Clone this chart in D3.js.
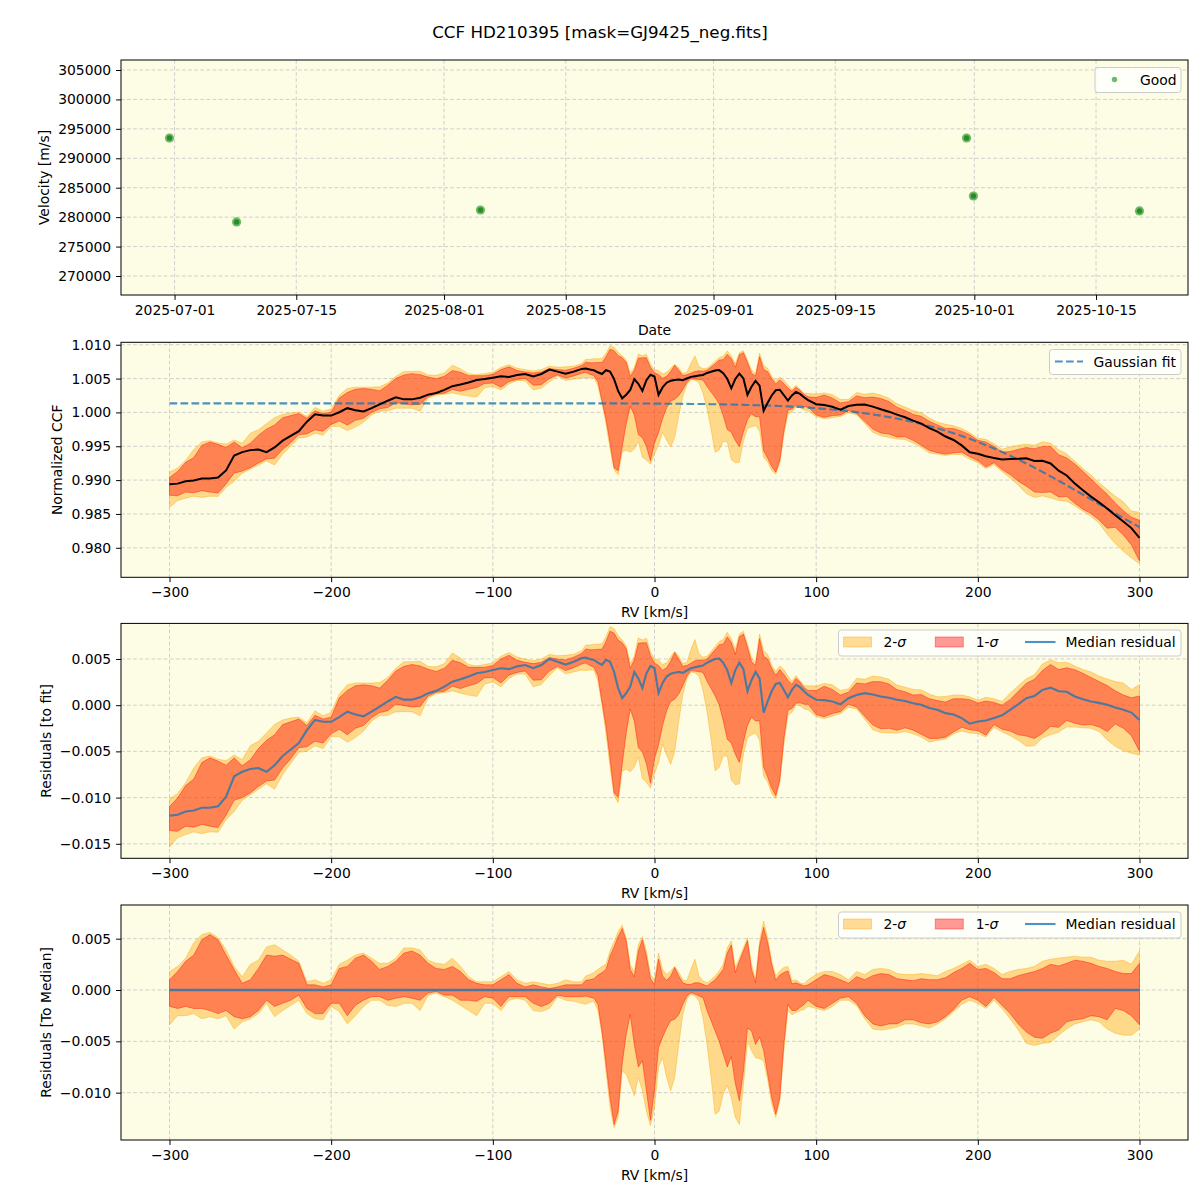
<!DOCTYPE html>
<html><head><meta charset="utf-8">
<script src="https://cdn.jsdelivr.net/npm/d3@7"></script>
<style>body{margin:0;background:#fff} svg{font-family:"DejaVu Sans",sans-serif}</style>
</head><body>
<script>
// ---------------- DATA ----------------
const title = "CCF HD210395 [mask=GJ9425_neg.fits]";

// Panel 1: RV time series
const obsDates = ["2025-06-30T10:00","2025-07-08T03:15","2025-08-05T04:30","2025-09-30T02:30","2025-09-30T21:30","2025-10-20T00:00"];
const obsVel = [293450, 279180, 281210, 293450, 283590, 281050];
const dateTicks = ["2025-07-01","2025-07-15","2025-08-01","2025-08-15","2025-09-01","2025-09-15","2025-10-01","2025-10-15"];
const velTicks = [270000, 275000, 280000, 285000, 290000, 295000, 300000, 305000];

// RV grid [km/s]
const rv = [-300,-295,-290,-285,-280,-275,-270,-265,-260,-255,-250,-245,-240,-235,-230,-225,-220,-215,-210,-205,-200,-195,-190,-185,-180,-175,-170,-165,-160,-155,-150,-145,-140,-135,-130,-125,-120,-115,-110,-105,-100,-95,-90,-85,-80,-75,-70,-65,-60,-55,-50,-45,
-42.5,-40,-37.5,-35,-32.5,-30,-27.5,-25,-22.5,-20,-17.5,-15,-12.5,-10,-7.5,-5,-2.5,0,2.5,5,7.5,10,12.5,15,17.5,20,22.5,25,27.5,30,32.5,35,37.5,40,42.5,45,47.5,50,52.5,55,57.5,60,62.5,65,67.5,70,72.5,75,77.5,80,82.5,85,87.5,90,92.5,
95,100,105,110,115,120,125,130,135,140,145,150,155,160,165,170,175,180,185,190,195,200,205,210,215,220,225,230,235,240,245,250,255,260,265,270,275,280,285,290,295,300];

const fitCCF = [1.00133,1.00133,1.00133,1.00133,1.00133,1.00133,1.00133,1.00133,1.00133,1.00133,1.00133,1.00133,1.00133,1.00133,1.00133,1.00133,1.00133,1.00133,1.00133,1.00133,1.00133,1.00133,1.00133,1.00133,1.00133,1.00133,1.00133,1.00133,1.00133,1.00133,1.00133,1.00133,1.00133,1.00133,1.00133,1.00133,1.00133,1.00133,1.00133,1.00133,1.00133,1.00133,1.00133,1.00133,1.00133,1.00133,1.00133,1.00133,1.00133,1.00133,1.00133,1.00133,
1.00133,1.00133,1.00133,1.00133,1.00133,1.00133,1.00133,1.00133,1.00133,1.00133,1.00132,1.00132,1.00132,1.00132,1.00132,1.00132,1.00132,1.0013,1.0013,1.00129,1.00129,1.00128,1.00128,1.00127,1.00126,1.00126,1.00125,1.00125,1.00124,1.00124,1.00123,1.00121,1.0012,1.0012,1.00119,1.00117,1.00116,1.00115,1.00113,1.00112,1.0011,1.00109,1.00107,1.00105,1.00103,1.00102,1.001,1.00097,1.00095,1.00092,1.00089,1.00086,1.00083,1.00079,1.00075,
1.00071,1.00063,1.00053,1.00043,1.00031,1.00018,1.00004,0.99988,0.99971,0.99952,0.99931,0.99909,0.99884,0.99858,0.99829,0.99799,0.99766,0.9973,0.99693,0.99653,0.9961,0.99565,0.99517,0.99468,0.99415,0.99361,0.99304,0.99245,0.99184,0.99121,0.99056,0.9899,0.98923,0.98854,0.98785,0.98716,0.98646,0.98576,0.98507,0.98439,0.98371,0.98306];

// Median residual to fit (panel 3)
const medRes = [-0.01196,-0.01185,-0.0115,-0.0114,-0.0111,-0.0111,-0.01095,-0.0099,-0.0077,-0.0072,-0.0069,-0.0068,-0.0072,-0.0065,-0.0055,-0.0048,-0.0041,-0.0027,-0.0016,-0.0018,-0.0018,-0.0013,-0.0007,-0.001,-0.0012,-0.0007,-0.00015,0.0004,0.0009,0.0006,0.0006,0.00085,0.0013,0.00155,0.002,0.00255,0.0028,0.0031,0.00345,0.0036,0.0038,0.004,0.0039,0.0042,0.00435,0.004,0.00435,0.005,0.0047,0.0044,0.0047,0.0051,
0.00515,0.005,0.0049,0.0046,0.00435,0.0049,0.0047,0.0036,0.00185,0.00075,0.0013,0.002,0.0036,0.0029,0.00185,0.00345,0.00425,0.004,0.0013,0.0024,0.0031,0.0034,0.0035,0.0036,0.0035,0.00375,0.004,0.0041,0.0042,0.0043,0.0046,0.0048,0.005,0.00505,0.0046,0.0038,0.0024,0.0038,0.0046,0.0039,0.0015,0.0027,0.0036,0.0029,-0.0008,0.0004,0.0015,0.0023,0.0024,0.00165,0.00085,0.00165,0.0022,0.00195,0.0015,
0.0011,0.00058,0.00055,0.0004,0.0001,0.00076,0.0011,0.0013,0.00115,0.00094,0.0008,0.00058,0.00045,0.0002,0.00005,-0.0003,-0.0005,-0.00086,-0.001,-0.0014,-0.002,-0.00177,-0.00165,-0.0014,-0.0011,-0.0005,0.0001,0.00076,0.001,0.00166,0.0019,0.0015,0.00145,0.00094,0.00065,0.0004,0.00025,0.00004,-0.00025,-0.0005,-0.0008,-0.0016];

// Percentile band edges relative to the median (panel 4)
const sig2Hi = [0.0018,0.0023,0.0031,0.0046,0.0054,0.0056,0.0051,0.0039,0.0023,0.0013,0.0025,0.0029,0.0042,0.0044,0.0039,0.0034,0.0028,0.0008,0.001,0.00065,0.001,0.0025,0.0029,0.0034,0.0036,0.0031,0.0026,0.0026,0.0031,0.0041,0.0041,0.0039,0.0029,0.0026,0.0025,0.0031,0.0023,0.0013,0.0008,0.0008,0.0008,0.0013,0.0018,0.001,0.00065,0.0008,0.00065,0.0005,0.00065,0.001,0.0008,0.0008,
0.00136,0.0015,0.0017,0.002,0.0023,0.0025,0.0038,0.0047,0.0057,0.0063,0.0051,0.0025,0.0017,0.0044,0.0052,0.0038,0.0015,0.001,0.0036,0.002,0.0015,0.00185,0.0023,0.0017,0.001,0.0009,0.002,0.003,0.00136,0.0009,0.0007,0.001,0.00136,0.00185,0.0025,0.0041,0.0048,0.0022,0.0031,0.0041,0.0051,0.0025,0.001,0.0048,0.0067,0.0051,0.0028,0.00136,0.00185,0.0022,0.0023,0.0009,0.001,0.0007,0.0006,
0.001,0.0015,0.0018,0.0018,0.0015,0.001,0.0018,0.0015,0.002,0.0021,0.002,0.0016,0.0015,0.0015,0.0016,0.0015,0.0014,0.0018,0.0021,0.0025,0.0029,0.0023,0.0025,0.0021,0.0015,0.0018,0.002,0.0021,0.0023,0.0028,0.003,0.0031,0.0032,0.0033,0.0032,0.0032,0.0029,0.0028,0.0028,0.0029,0.0025,0.0038];
const sig1Hi = [0.001,0.0018,0.0028,0.0034,0.0049,0.0054,0.0049,0.0034,0.002,0.00065,0.001,0.0021,0.0034,0.0033,0.0034,0.003,0.0026,0.0005,0.0005,0.0003,0.0005,0.0021,0.0023,0.0031,0.0034,0.0028,0.002,0.0023,0.0028,0.0036,0.0038,0.0034,0.0026,0.0021,0.002,0.0023,0.0018,0.001,0.00065,0.0005,0.0005,0.001,0.0015,0.00065,0.0003,0.0005,0.0003,0.00015,0.0003,0.0005,0.0005,0.0005,
0.00094,0.001,0.0011,0.00145,0.0017,0.002,0.0033,0.0042,0.0052,0.006,0.0048,0.002,0.0013,0.0038,0.0049,0.0033,0.0011,0.00055,0.003,0.00136,0.00094,0.00136,0.0022,0.00136,0.0007,0.00055,0.00055,0.0007,0.0007,0.00055,0.0004,0.0007,0.001,0.0015,0.002,0.0036,0.0044,0.0017,0.0028,0.0038,0.0048,0.002,0.0007,0.0043,0.0061,0.0046,0.0025,0.00094,0.00145,0.0017,0.00185,0.0006,0.0007,0.00055,0.0004,
0.0005,0.001,0.0015,0.0013,0.001,0.00065,0.0013,0.001,0.0014,0.0016,0.0015,0.0011,0.001,0.0009,0.0011,0.001,0.001,0.0012,0.0017,0.0021,0.0026,0.002,0.0021,0.0017,0.0011,0.0011,0.0014,0.0016,0.0018,0.0021,0.0025,0.00235,0.0026,0.0029,0.0028,0.0026,0.0023,0.0021,0.0018,0.0016,0.0016,0.0026];
const sig1Lo = [-0.0016,-0.0018,-0.0016,-0.0018,-0.0018,-0.002,-0.0023,-0.002,-0.0026,-0.0028,-0.0026,-0.002,-0.001,-0.0016,-0.0013,-0.001,-0.0005,-0.0018,-0.0023,-0.0023,-0.0013,-0.0013,-0.0025,-0.0015,-0.001,-0.00065,-0.00065,-0.001,-0.0008,-0.00065,-0.0008,-0.001,-0.0003,-0.00015,-0.0005,-0.0005,-0.001,-0.001,-0.0011,-0.00065,-0.0008,-0.0016,-0.00065,-0.00065,-0.00065,-0.0013,-0.0016,-0.0013,-0.0005,-0.00065,-0.00065,-0.00065,
-0.00058,-0.0007,-0.0008,-0.0014,-0.004,-0.0072,-0.0105,-0.0131,-0.0118,-0.0072,-0.0043,-0.0024,-0.0053,-0.0075,-0.0069,-0.0098,-0.0127,-0.0098,-0.0056,-0.0046,-0.0037,-0.003,-0.00285,-0.0024,-0.0014,-0.0006,-0.00026,-0.0004,-0.00058,-0.00075,-0.002,-0.003,-0.004,-0.005,-0.00625,-0.0075,-0.0065,-0.0091,-0.0108,-0.0079,-0.0037,-0.004,-0.0053,-0.0046,-0.0059,-0.0082,-0.0105,-0.0121,-0.0105,-0.0053,-0.0014,-0.002,-0.002,-0.0017,-0.0014,
-0.001,-0.0016,-0.0018,-0.0013,-0.0008,-0.00065,-0.0013,-0.0025,-0.0033,-0.0035,-0.0033,-0.0033,-0.0029,-0.0029,-0.0032,-0.0033,-0.0031,-0.0026,-0.0019,-0.001,-0.00065,-0.001,-0.0016,-0.0007,-0.0015,-0.0023,-0.0033,-0.0041,-0.0046,-0.0047,-0.0042,-0.0039,-0.0031,-0.0029,-0.0028,-0.0025,-0.0026,-0.0029,-0.0018,-0.002,-0.0025,-0.0034];
const sig2Lo = [-0.0034,-0.0025,-0.0025,-0.0023,-0.0028,-0.0026,-0.0028,-0.0025,-0.0038,-0.0031,-0.0028,-0.0023,-0.0013,-0.0026,-0.002,-0.0015,-0.001,-0.0023,-0.0028,-0.0029,-0.0016,-0.0021,-0.0033,-0.0025,-0.0016,-0.001,-0.001,-0.0015,-0.0016,-0.0013,-0.0013,-0.002,-0.0005,-0.0003,-0.00065,-0.001,-0.0015,-0.002,-0.0025,-0.0013,-0.0013,-0.002,-0.001,-0.0008,-0.001,-0.002,-0.0021,-0.0018,-0.00065,-0.001,-0.0011,-0.0013,
-0.00139,-0.0012,-0.0011,-0.002,-0.0043,-0.0079,-0.0114,-0.0134,-0.0124,-0.0079,-0.0082,-0.0092,-0.0103,-0.0085,-0.0098,-0.0118,-0.0132,-0.0114,-0.0075,-0.0066,-0.0085,-0.0098,-0.0085,-0.0053,-0.0024,-0.0009,-0.0004,-0.00058,-0.00107,-0.0027,-0.0053,-0.0085,-0.0121,-0.0118,-0.0101,-0.0093,-0.0105,-0.0124,-0.0131,-0.0092,-0.005,-0.0059,-0.0066,-0.0067,-0.0069,-0.0087,-0.0111,-0.0124,-0.0108,-0.0059,-0.002,-0.0024,-0.0022,-0.002,-0.0019,
-0.0016,-0.0018,-0.002,-0.0016,-0.001,-0.001,-0.0015,-0.0028,-0.0038,-0.0039,-0.0038,-0.0036,-0.0033,-0.0033,-0.0035,-0.0037,-0.0033,-0.0028,-0.0021,-0.0014,-0.001,-0.0013,-0.0018,-0.001,-0.0018,-0.0028,-0.0039,-0.0052,-0.0054,-0.0052,-0.0051,-0.0044,-0.0038,-0.0033,-0.0031,-0.0029,-0.0031,-0.0038,-0.0042,-0.0044,-0.0044,-0.0038];

const rvTicks = [-300, -200, -100, 0, 100, 200, 300];
const ccfTicks = [0.980, 0.985, 0.990, 0.995, 1.000, 1.005, 1.010];
const resTicks = [-0.015, -0.010, -0.005, 0.000, 0.005];
const medTicks = [-0.010, -0.005, 0.000, 0.005];

// ---------------- STYLE / LAYOUT ----------------
const BG = "#fdfce4", GRID = "#c4c4c4", ORANGE = "#ffa500", RED = "#ff0000", BLUE = "#1f77b4";
const L = 121, R = 1188, FS = 13.9;
const P = [{top: 60, bot: 295}, {top: 342.3, bot: 577.3}, {top: 623.4, bot: 858.3}, {top: 905, bot: 1140}];

const svg = d3.select("body").append("svg").attr("width", 1200).attr("height", 1200)
  .attr("font-family", "'DejaVu Sans', sans-serif");
svg.append("rect").attr("width", 1200).attr("height", 1200).attr("fill", "#fff");
const defs = svg.append("defs");

svg.append("text").attr("x", 600).attr("y", 38).attr("text-anchor", "middle")
  .attr("font-size", 16.7).attr("fill", "#000").text(title);

function panel(id, p, x, y, xt, xf, yt, yf) {
  const g = svg.append("g");
  g.append("rect").attr("x", L).attr("y", p.top).attr("width", R - L).attr("height", p.bot - p.top).attr("fill", BG);
  const grid = g.append("g").attr("stroke", GRID).attr("stroke-width", 0.8).attr("stroke-dasharray", "3.7,2.4");
  xt.forEach(t => grid.append("line").attr("x1", x(t)).attr("x2", x(t)).attr("y1", p.top).attr("y2", p.bot));
  yt.forEach(t => grid.append("line").attr("x1", L).attr("x2", R).attr("y1", y(t)).attr("y2", y(t)));
  defs.append("clipPath").attr("id", id).append("rect").attr("x", L).attr("y", p.top).attr("width", R - L).attr("height", p.bot - p.top);
  const plot = g.append("g").attr("clip-path", `url(#${id})`);
  const ax = g.append("g").attr("transform", `translate(0,${p.bot})`)
    .call(d3.axisBottom(x).tickValues(xt).tickFormat(xf).tickSize(4.9).tickPadding(4.9));
  const ay = g.append("g").attr("transform", `translate(${L},0)`)
    .call(d3.axisLeft(y).tickValues(yt).tickFormat(yf).tickSize(4.9).tickPadding(4.9));
  [ax, ay].forEach(a => {
    a.attr("font-size", FS).attr("font-family", "'DejaVu Sans', sans-serif");
    a.select(".domain").remove();
    a.selectAll("line").attr("stroke", "#000").attr("stroke-width", 1);
    a.selectAll("text").attr("fill", "#000");
  });
  g.append("rect").attr("x", L).attr("y", p.top).attr("width", R - L).attr("height", p.bot - p.top)
    .attr("fill", "none").attr("stroke", "#000").attr("stroke-width", 1);
  const leg = g.append("g");
  return {g, plot, leg};
}

function ylabel(txt, xc, p) {
  svg.append("text").attr("transform", `translate(${xc},${(p.top + p.bot) / 2}) rotate(-90)`)
    .attr("text-anchor", "middle").attr("dy", "0.35em").attr("font-size", FS).attr("fill", "#000").text(txt);
}
function xlabel(txt, p) {
  svg.append("text").attr("x", (L + R) / 2).attr("y", p.bot + 40).attr("text-anchor", "middle")
    .attr("font-size", FS).attr("fill", "#000").text(txt);
}
function legendBox(leg, x, y, w, h) {
  leg.append("rect").attr("x", x).attr("y", y).attr("width", w).attr("height", h).attr("rx", 3)
    .attr("fill", "#fff").attr("fill-opacity", 0.8).attr("stroke", "#cccccc").attr("stroke-width", 1);
}

// ---------------- PANEL 1 ----------------
const parseT = d3.timeParse("%Y-%m-%dT%H:%M"), parseD = d3.timeParse("%Y-%m-%d");
const dts = obsDates.map(parseT);
const ext = d3.extent(dts), span = ext[1] - ext[0];
const x1 = d3.scaleTime().domain([new Date(+ext[0] - 0.05 * span), new Date(+ext[1] + 0.05 * span)]).range([L, R]);
const y1 = d3.scaleLinear().domain([266770, 306700]).range([P[0].bot, P[0].top]);
const p1 = panel("c1", P[0], x1, y1, dateTicks.map(parseD), d3.timeFormat("%Y-%m-%d"), velTicks, d3.format("d"));
const obs = dts.map((d, i) => ({d, v: obsVel[i]}));
p1.plot.selectAll("circle.o").data(obs).join("circle").attr("class", "o")
  .attr("cx", d => x1(d.d)).attr("cy", d => y1(d.v)).attr("r", 4.6)
  .attr("fill", "#2ca02c").attr("fill-opacity", 0.7);
p1.plot.selectAll("circle.i").data(obs).join("circle").attr("class", "i")
  .attr("cx", d => x1(d.d)).attr("cy", d => y1(d.v)).attr("r", 2.7)
  .attr("fill", "#1c7f1c").attr("fill-opacity", 0.8);
legendBox(p1.leg, 1095, 67.5, 86, 25);
p1.leg.append("circle").attr("cx", 1114.5).attr("cy", 79.5).attr("r", 2.7).attr("fill", "#2ca02c").attr("fill-opacity", 0.7);
p1.leg.append("text").attr("x", 1140).attr("y", 84.5).attr("font-size", FS).attr("fill", "#000").text("Good");
ylabel("Velocity [m/s]", 44, P[0]);
xlabel("Date", P[0]);

// ---------------- shared RV data ----------------
const pts = rv.map((v, i) => ({rv: v, fit: fitCCF[i], res: medRes[i], h2: sig2Hi[i], h1: sig1Hi[i], l1: sig1Lo[i], l2: sig2Lo[i]}));
const xr = d3.scaleLinear().domain([-330, 330]).range([L, R]);
const fmtInt = d3.format("d"), fmt3 = d3.format(".3f");

function bands(plot, y, base) {
  const a2 = d3.area().x(d => xr(d.rv)).y0(d => y(base(d) + d.l2)).y1(d => y(base(d) + d.h2));
  const a1 = d3.area().x(d => xr(d.rv)).y0(d => y(base(d) + d.l1)).y1(d => y(base(d) + d.h1));
  plot.append("path").datum(pts).attr("d", a2).attr("fill", ORANGE).attr("fill-opacity", 0.4)
    .attr("stroke", ORANGE).attr("stroke-opacity", 0.4).attr("stroke-width", 1);
  plot.append("path").datum(pts).attr("d", a1).attr("fill", RED).attr("fill-opacity", 0.4)
    .attr("stroke", RED).attr("stroke-opacity", 0.4).attr("stroke-width", 1);
}
function sigmaLegend(leg, top) {
  legendBox(leg, 838.5, top, 342.5, 26);
  const sy = top + 7, ty = top + 17.3;
  leg.append("rect").attr("x", 843.5).attr("y", sy).attr("width", 28).attr("height", 10)
    .attr("fill", ORANGE).attr("fill-opacity", 0.4).attr("stroke", ORANGE).attr("stroke-opacity", 0.4);
  const t1 = leg.append("text").attr("x", 883.5).attr("y", ty).attr("font-size", FS).attr("fill", "#000");
  t1.append("tspan").text("2-"); t1.append("tspan").attr("font-style", "italic").text("σ");
  leg.append("rect").attr("x", 935.3).attr("y", sy).attr("width", 28).attr("height", 10)
    .attr("fill", RED).attr("fill-opacity", 0.4).attr("stroke", RED).attr("stroke-opacity", 0.4);
  const t2 = leg.append("text").attr("x", 975.7).attr("y", ty).attr("font-size", FS).attr("fill", "#000");
  t2.append("tspan").text("1-"); t2.append("tspan").attr("font-style", "italic").text("σ");
  leg.append("line").attr("x1", 1025).attr("x2", 1055.5).attr("y1", top + 12).attr("y2", top + 12)
    .attr("stroke", BLUE).attr("stroke-opacity", 0.8).attr("stroke-width", 2.1);
  leg.append("text").attr("x", 1065.6).attr("y", ty).attr("font-size", FS).attr("fill", "#000").text("Median residual");
}

// ---------------- PANEL 2 ----------------
const y2 = d3.scaleLinear().domain([0.97564, 1.01036]).range([P[1].bot, P[1].top]);
const p2 = panel("c2", P[1], xr, y2, rvTicks, fmtInt, ccfTicks, fmt3);
bands(p2.plot, y2, d => d.fit + d.res);
p2.plot.append("path").datum(pts)
  .attr("d", d3.line().x(d => xr(d.rv)).y(d => y2(d.fit)))
  .attr("fill", "none").attr("stroke", BLUE).attr("stroke-opacity", 0.8).attr("stroke-width", 2.1).attr("stroke-dasharray", "7.7,3.3");
p2.plot.append("path").datum(pts)
  .attr("d", d3.line().x(d => xr(d.rv)).y(d => y2(d.fit + d.res)))
  .attr("fill", "none").attr("stroke", "#000").attr("stroke-width", 2);
legendBox(p2.leg, 1049.5, 349.5, 131.5, 25);
p2.leg.append("line").attr("x1", 1055).attr("x2", 1083).attr("y1", 361.5).attr("y2", 361.5)
  .attr("stroke", BLUE).attr("stroke-opacity", 0.8).attr("stroke-width", 2.1).attr("stroke-dasharray", "7.7,3.3");
p2.leg.append("text").attr("x", 1093.5).attr("y", 366.5).attr("font-size", FS).attr("fill", "#000").text("Gaussian fit");
ylabel("Normalized CCF", 57, P[1]);
xlabel("RV [km/s]", P[1]);

// ---------------- PANEL 3 ----------------
const y3 = d3.scaleLinear().domain([-0.01657, 0.00885]).range([P[2].bot, P[2].top]);
const p3 = panel("c3", P[2], xr, y3, rvTicks, fmtInt, resTicks, fmt3);
bands(p3.plot, y3, d => d.res);
p3.plot.append("path").datum(pts)
  .attr("d", d3.line().x(d => xr(d.rv)).y(d => y3(d.res)))
  .attr("fill", "none").attr("stroke", BLUE).attr("stroke-opacity", 0.8).attr("stroke-width", 2.1);
sigmaLegend(p3.leg, 630);
ylabel("Residuals [to fit]", 46, P[2]);
xlabel("RV [km/s]", P[2]);

// ---------------- PANEL 4 ----------------
const y4 = d3.scaleLinear().domain([-0.01461, 0.00828]).range([P[3].bot, P[3].top]);
const p4 = panel("c4", P[3], xr, y4, rvTicks, fmtInt, medTicks, fmt3);
bands(p4.plot, y4, d => 0);
p4.plot.append("path").datum(pts)
  .attr("d", d3.line().x(d => xr(d.rv)).y(d => y4(0)))
  .attr("fill", "none").attr("stroke", BLUE).attr("stroke-opacity", 0.8).attr("stroke-width", 2.4);
sigmaLegend(p4.leg, 912);
ylabel("Residuals [To Median]", 46, P[3]);
xlabel("RV [km/s]", P[3]);
</script>
</body></html>
